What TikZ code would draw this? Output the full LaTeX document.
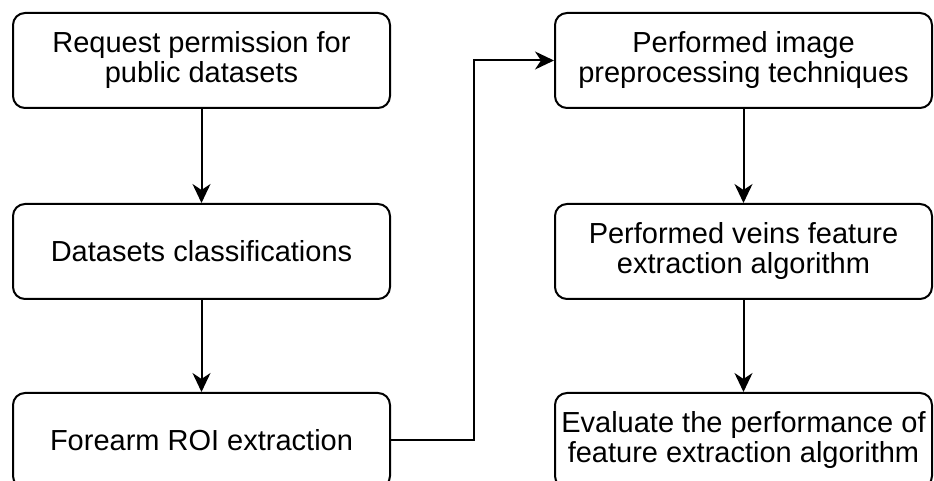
\documentclass[tikz,border=0pt]{standalone}
\usepackage{fontspec}
\setmainfont{Liberation Sans}
\usepackage{tikz}
\usetikzlibrary{arrows.meta}
\tikzset{
	stepbox/.style={draw, line width=1pt, rounded corners=6pt, minimum width=188.5pt, minimum height=47.5pt, align=center, inner sep=0pt, font=\fontsize{14.5}{15}\selectfont},
	flow/.style={line width=1pt, -{Stealth[length=9.5pt,width=9pt,inset=3pt]}}
}

\begin{document}
\begin{tikzpicture}[x=0.5pt,y=-0.5pt]

\useasboundingbox (0,0) rectangle (934,481);
\clip (0,0) rectangle (934,481);

\node[stepbox] (req) at (201.5,60.5) {Request permission for\\public datasets};
\node[stepbox] (cls) at (201.5,251.5) {Datasets classifications};
\node[stepbox] (roi) at (201.5,440.5) {Forearm ROI extraction};

\node[stepbox] (pre) at (743.5,60.5) {Performed image\\preprocessing techniques};
\node[stepbox] (vein) at (743.5,251.5) {Performed veins feature\\extraction algorithm};
\node[stepbox] (eval) at (743.5,440.5) {Evaluate the performance of\\feature extraction algorithm};

\draw[flow] (req) -- (cls);
\draw[flow] (cls) -- (roi);
\draw[flow] (roi.east) -- (474,440.5) -- (474,60.5) -- (pre.west);
\draw[flow] (pre) -- (vein);
\draw[flow] (vein) -- (eval);

\end{tikzpicture}
\end{document}
